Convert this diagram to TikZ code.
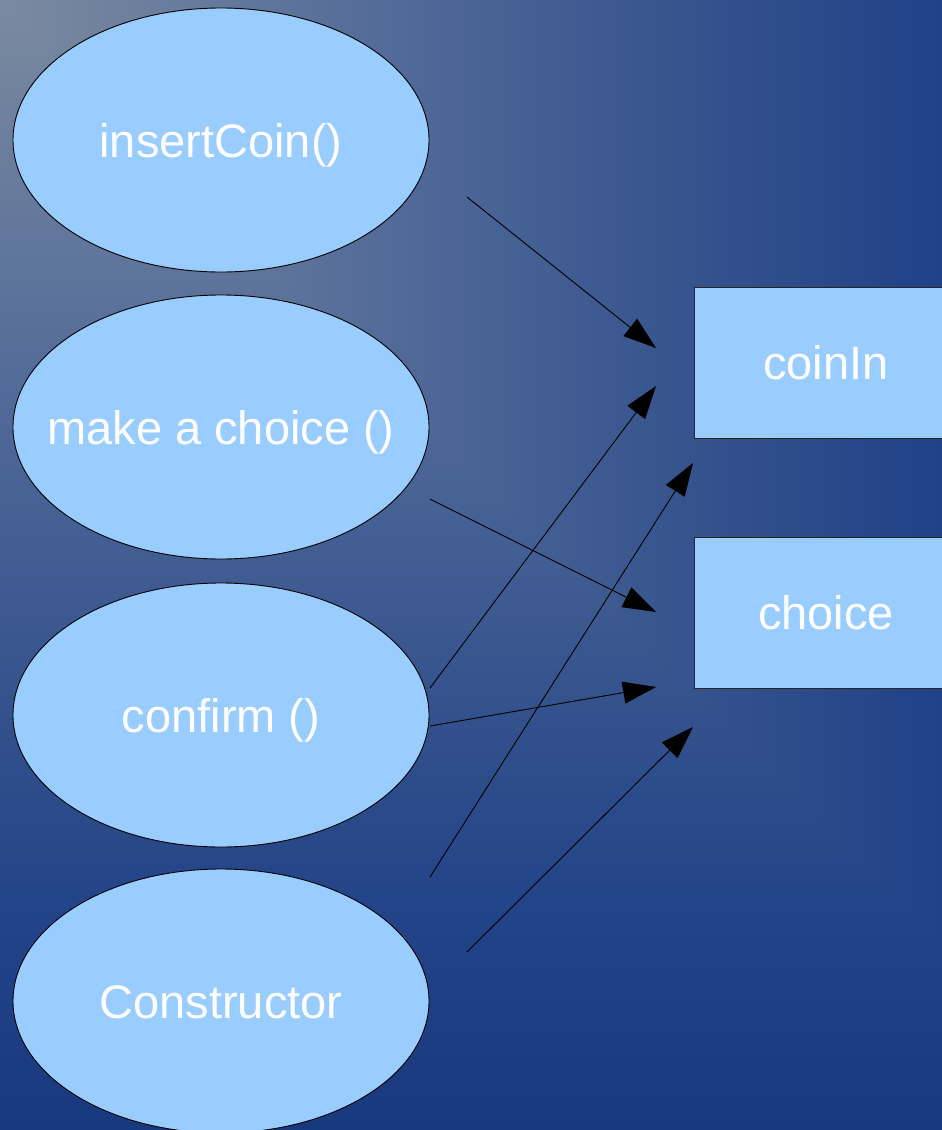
\documentclass[tikz,border=0pt]{standalone}
\usepackage{fontspec}
\setmainfont{Liberation Sans}
\usetikzlibrary{shapes.geometric,arrows.meta}

\definecolor{gA}{HTML}{7A8AA0}
\definecolor{gB}{HTML}{4A6496}
\definecolor{gM}{HTML}{34528C}
\definecolor{gC}{HTML}{234488}
\definecolor{gD}{HTML}{19397F}
\definecolor{boxfill}{HTML}{99CCFF}

% square gradient from the upper left corner, built from two linear ramps:
% left to right above the diagonal, top to bottom below it
\pgfdeclarehorizontalshading{rampx}{100bp}{%
  color(0bp)=(gA); color(25bp)=(gA); color(45.8bp)=(gB); color(56bp)=(gM);
  color(64.8bp)=(gC); color(75bp)=(gD); color(100bp)=(gD)}
\pgfdeclareverticalshading{rampy}{100bp}{%
  color(0bp)=(gD); color(25bp)=(gD); color(35.2bp)=(gC); color(44bp)=(gM);
  color(54.2bp)=(gB); color(75bp)=(gA); color(100bp)=(gA)}

\tikzset{
  usecase/.style={ellipse, draw=black, line width=0.9pt, fill=boxfill,
    minimum width=416pt, minimum height=264pt, inner sep=0pt},
  classbox/.style={rectangle, draw=black!85, line width=0.9pt, fill=boxfill,
    minimum width=264pt, minimum height=151pt, inner sep=0pt,
    text=white, font=\fontsize{47}{56}\selectfont, text height=34pt, text depth=0pt},
  caption/.style={text=white, font=\fontsize{47}{56}\selectfont,
    text height=34pt, text depth=0pt, inner sep=0pt},
  link/.style={draw=black, line width=0.9pt,
    -{Triangle[length=33pt, width=22pt]}},
}

\begin{document}
\begin{tikzpicture}[x=1pt, y=-1pt]
  \useasboundingbox (0,0) rectangle (942,1130);

  % background
  \begin{scope}
    \clip (0,0) rectangle (942,1130);
    \shade[shading=rampy] (0,0) rectangle (942,1130);
  \end{scope}
  \begin{scope}
    \clip (0,0) -- (942,0) -- (942,942) -- cycle;
    \shade[shading=rampx] (0,0) rectangle (1130,1130);
  \end{scope}

  % use cases
  \node[usecase] (insert) at (221,140) {};
  \node[usecase] (make)   at (221,427) {};
  \node[usecase] (conf)   at (221,715) {};
  \node[usecase] (ctor)   at (221,1001) {};

  \node[caption] (insertT) at (insert.center) {insertCoin()};
  \node[caption] (makeT)   at (make.center)   {make a choice ()};
  \node[caption] (confT)   at (conf.center)   {confirm ()};
  \node[caption] (ctorT)   at (ctor.center)   {Constructor};

  % attributes
  \node[classbox] (coin)   at (826,362.5) {coinIn};
  \node[classbox] (choice) at (826,612.5) {choice};

  % link end points
  \coordinate (s1) at (467,197);  \coordinate (t1) at (656,348);
  \coordinate (s2) at (430,499);  \coordinate (t2) at (656,612);
  \coordinate (s3) at (430,688);  \coordinate (t3) at (656,386);
  \coordinate (s4) at (430,726);  \coordinate (t4) at (656,687);
  \coordinate (s5) at (430,877);  \coordinate (t5) at (693,463);
  \coordinate (s6) at (467,952);  \coordinate (t6) at (693,727);

  \draw[link] (s1) -- (t1);
  \draw[link] (s2) -- (t2);
  \draw[link] (s3) -- (t3);
  \draw[link] (s4) -- (t4);
  \draw[link] (s5) -- (t5);
  \draw[link] (s6) -- (t6);
\end{tikzpicture}
\end{document}
